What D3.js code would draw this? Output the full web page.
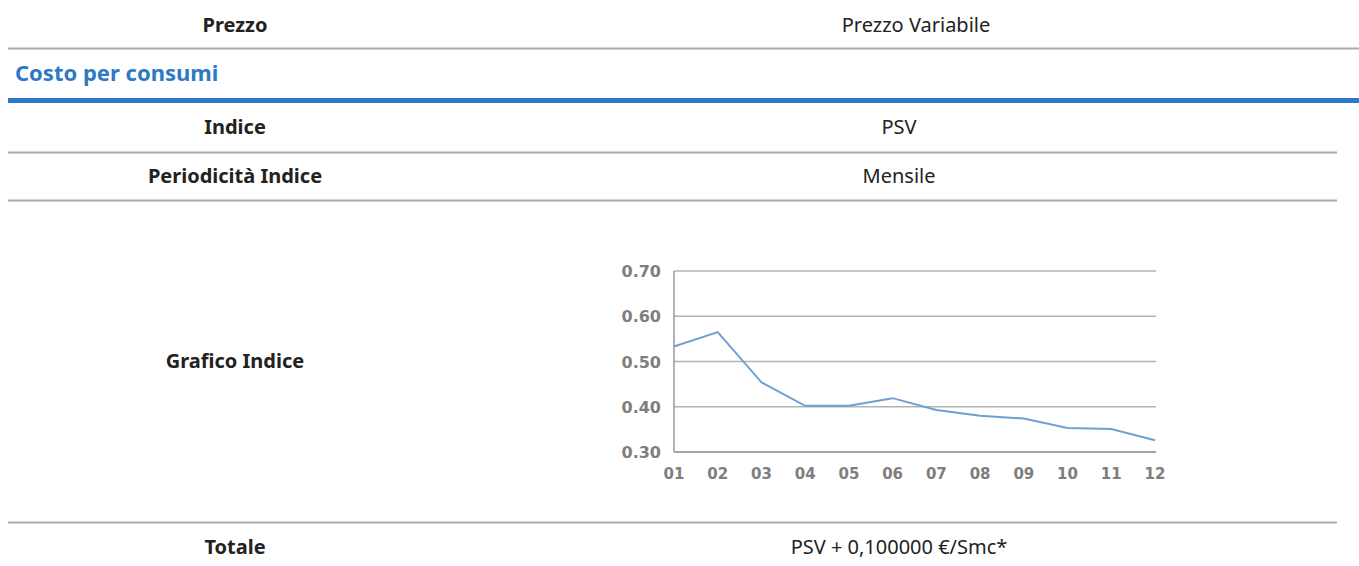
<!DOCTYPE html>
<html>
<head>
<meta charset="utf-8">
<script src="https://cdn.jsdelivr.net/npm/d3@7"></script>
<style>
  body { margin: 0; background: #fff; }
</style>
</head>
<body>
<svg id="chart" width="1359" height="566"></svg>
<script>
// table rows (label, value)
var rowLabels = ["Prezzo", "Indice", "Periodicità Indice", "Grafico Indice", "Totale"]
var rowValues = ["Prezzo Variabile", "PSV", "Mensile", "", "PSV + 0,100000 €/Smc*"]
var sectionTitle = "Costo per consumi"

// index chart data
var months = ["01", "02", "03", "04", "05", "06", "07", "08", "09", "10", "11", "12"]
var psv = [0.533, 0.565, 0.454, 0.402, 0.402, 0.419, 0.393, 0.380, 0.374, 0.353, 0.351, 0.326]
var yTicks = [0.30, 0.40, 0.50, 0.60, 0.70]

var svg = d3.select('#chart')
var textFont = "'Noto Sans', sans-serif"
var gray = '#ababab'

// row text positions
var rowY = [32, 134, 183, 368, 554]
var valueX = [916, 899, 899, 0, 899]

rowLabels.forEach(function(lab, i) {
    svg.append('text')
        .text(lab)
        .attr('x', 235)
        .attr('y', rowY[i])
        .attr('text-anchor', 'middle')
        .style('font-family', textFont)
        .style('font-weight', 'bold')
        .style('font-size', '20px')
        .attr('fill', '#222');
    if (rowValues[i] != "") {
        svg.append('text')
            .text(rowValues[i])
            .attr('x', valueX[i])
            .attr('y', rowY[i])
            .attr('text-anchor', 'middle')
            .style('font-family', textFont)
            .style('font-size', '20px')
            .attr('fill', '#222');
    }
});

svg.append('text')
    .text(sectionTitle)
    .attr('x', 15)
    .attr('y', 81)
    .style('font-family', textFont)
    .style('font-weight', 'bold')
    .style('font-size', '22px')
    .attr('fill', '#2e78c6');

// separators
svg.append('line').attr('x1', 8).attr('x2', 1359).attr('y1', 48.5).attr('y2', 48.5)
    .style('stroke', gray).style('stroke-width', 2);
svg.append('line').attr('x1', 8).attr('x2', 1359).attr('y1', 100.5).attr('y2', 100.5)
    .style('stroke', '#2e78c6').style('stroke-width', 5);
[152.5, 200.5, 522.5].forEach(function(y) {
    svg.append('line').attr('x1', 8).attr('x2', 1337).attr('y1', y).attr('y2', y)
        .style('stroke', gray).style('stroke-width', 2);
});

// chart
var x = d3.scalePoint().domain(months).range([674, 1155])
var y = d3.scaleLinear().domain([0.30, 0.70]).range([452, 271])

var g = svg.append('g')

g.selectAll('line.grid')
    .data(yTicks)
    .join('line')
    .attr('class', 'grid')
    .attr('x1', 674)
    .attr('x2', 1156)
    .attr('y1', function(d) { return y(d); })
    .attr('y2', function(d) { return y(d); })
    .style('stroke', '#b3b3b3')
    .style('stroke-width', 1.5);

g.append('line')
    .attr('x1', 674).attr('x2', 674)
    .attr('y1', y(0.70)).attr('y2', y(0.30))
    .style('stroke', '#9a9a9a').style('stroke-width', 1.5);
g.append('line')
    .attr('x1', 674).attr('x2', 1156)
    .attr('y1', y(0.30)).attr('y2', y(0.30))
    .style('stroke', '#9a9a9a').style('stroke-width', 1.5);

g.selectAll('text.ylab')
    .data(yTicks)
    .join('text')
    .attr('class', 'ylab')
    .text(function(d) { return d3.format('.2f')(d); })
    .attr('x', 661)
    .attr('y', function(d) { return y(d) + 6; })
    .attr('text-anchor', 'end')
    .style('font-family', "'DejaVu Sans', sans-serif")
    .style('font-size', '16px')
    .style('font-weight', 'bold')
    .attr('fill', '#7e7e7e');

g.selectAll('text.xlab')
    .data(months)
    .join('text')
    .attr('class', 'xlab')
    .text(function(d) { return d; })
    .attr('x', function(d) { return x(d); })
    .attr('y', 479)
    .attr('text-anchor', 'middle')
    .style('font-family', "'DejaVu Sans', sans-serif")
    .style('font-size', '15px')
    .style('font-weight', 'bold')
    .attr('fill', '#7e7e7e');

var line = d3.line()
    .x(function(d, i) { return x(months[i]); })
    .y(function(d) { return y(d); })

g.append('path')
    .datum(psv)
    .attr('d', line)
    .attr('fill', 'none')
    .style('stroke', '#6f9fd3')
    .style('stroke-width', 2);
</script>
</body>
</html>
